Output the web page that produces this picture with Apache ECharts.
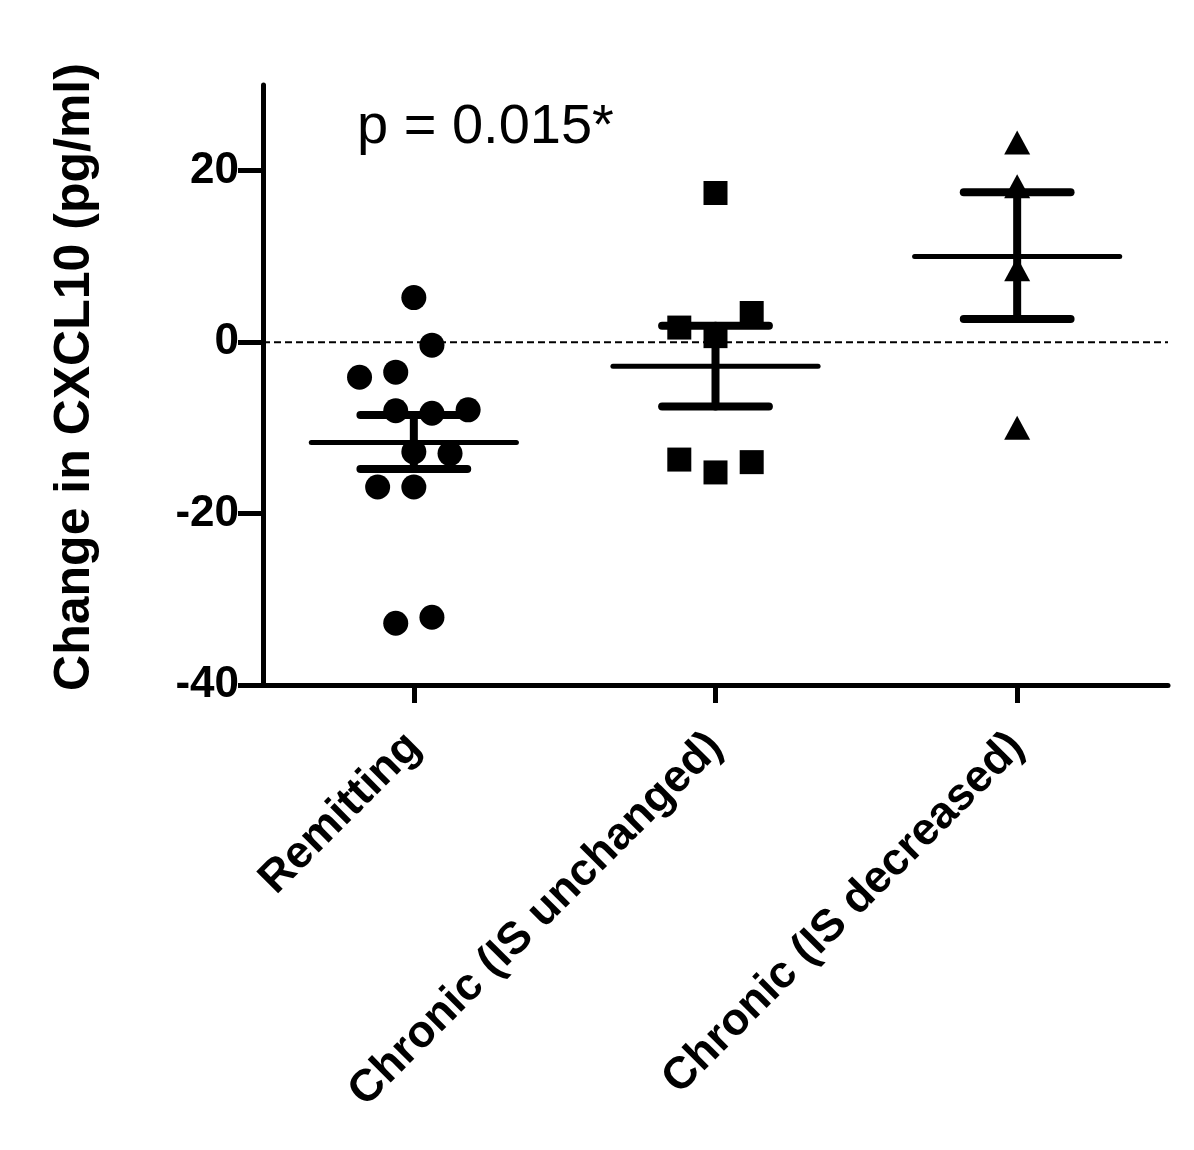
<!DOCTYPE html>
<html>
<head>
<meta charset="utf-8">
<script src="https://cdn.jsdelivr.net/npm/echarts@6/dist/echarts.min.js"></script>
<style>
  html, body { margin: 0; padding: 0; background: #fff; }
  #chart { width: 1194px; height: 1150px; }
</style>
</head>
<body>
<div id="chart"></div>
<script>
// ---- data ----
const categories = ['Remitting', 'Chronic (IS unchanged)', 'Chronic (IS decreased)'];
const yTicks = [-40, -20, 0, 20];
const yName = 'Change in CXCL10 (pg/ml)';
const pText = 'p = 0.015*';

// individual values (change, pg/ml) and their horizontal jitter (in category units)
const remittingValues = [5.2, -0.35, -4.1, -3.5, -8.0, -8.3, -7.9, -12.8, -13.0, -16.9, -16.9, -32.8, -32.1];
const remittingJitter = [0, 0.06, -0.18, -0.06, -0.06, 0.06, 0.18, 0, 0.12, -0.12, 0, -0.06, 0.06];
const unchangedValues = [17.4, 1.7, 3.4, 0.7, -13.7, -15.2, -14.0];
const unchangedJitter = [0, -0.12, 0.12, 0, -0.12, 0, 0.12];
const decreasedValues = [23.3, 18.2, 8.5, -10.0];
const decreasedJitter = [0, 0, 0, 0];

// group mean and SEM bounds
const groupMeans = [-11.7, -2.8, 10.0];
const groupSemLow = [-14.8, -7.5, 2.7];
const groupSemHigh = [-8.5, 1.9, 17.5];

// ---- build ----
function pts(idx, vals, jit) {
  return vals.map((v, i) => [idx + jit[i], v]);
}
const FONT = 'Liberation Sans, Arial, sans-serif';

const chart = echarts.init(document.getElementById('chart'), null, { renderer: 'canvas' });

const meanData = groupMeans.map((m, i) => [i, m, groupSemLow[i], groupSemHigh[i]]);
const markerStyle = { color: '#000', opacity: 1 };

const option = {
  backgroundColor: '#fff',
  animation: false,
  grid: { left: 263, right: 26, top: 85, bottom: 465, containLabel: false },
  xAxis: [
    {
      type: 'category',
      data: categories,
      boundaryGap: true,
      axisLine: { show: true, onZero: false, lineStyle: { color: '#000', width: 5 } },
      axisTick: { show: true, inside: false, interval: 0, alignWithLabel: true, length: 18, lineStyle: { color: '#000', width: 5 } },
      axisLabel: {
        rotate: 45, interval: 0, margin: 55,
        color: '#000', fontFamily: FONT, fontWeight: 'bold', fontSize: 45
      },
      splitLine: { show: false }
    },
    {
      type: 'value', min: -0.5, max: 2.5, show: false,
      axisLine: { onZero: false }
    }
  ],
  yAxis: {
    type: 'value',
    min: -40, max: 30,
    name: yName,
    nameLocation: 'middle',
    nameRotate: 90,
    nameGap: 163,
    nameTextStyle: { color: '#000', fontFamily: FONT, fontWeight: 'bold', fontSize: 50, padding: [0, 0, 0, 16] },
    axisLine: { show: true, onZero: false, lineStyle: { color: '#000', width: 5 } },
    axisTick: { show: true, length: 25, customValues: yTicks, lineStyle: { color: '#000', width: 5 } },
    axisLabel: {
      customValues: yTicks, margin: 24,
      color: '#000', fontFamily: FONT, fontWeight: 'bold', fontSize: 44
    },
    splitLine: { show: false }
  },
  graphic: [
    {
      type: 'text', left: 357, top: 100, z: 10,
      style: { text: pText, fill: '#000', font: 'normal 56px ' + FONT }
    }
  ],
  series: [
    {
      type: 'line', xAxisIndex: 1, data: [[-0.5, 0], [2.5, 0]],
      symbol: 'none', silent: true, z: 1,
      lineStyle: { color: '#000', width: 2, type: [7, 4] }
    },
    {
      type: 'scatter', xAxisIndex: 1, data: pts(0, remittingValues, remittingJitter),
      symbol: 'circle', symbolSize: 25, itemStyle: markerStyle, z: 3
    },
    {
      type: 'scatter', xAxisIndex: 1, data: pts(1, unchangedValues, unchangedJitter),
      symbol: 'rect', symbolSize: 24, itemStyle: markerStyle, z: 3
    },
    {
      type: 'scatter', xAxisIndex: 1, data: pts(2, decreasedValues, decreasedJitter),
      symbol: 'triangle', symbolSize: [26, 24], itemStyle: markerStyle, z: 3
    },
    {
      type: 'custom', xAxisIndex: 1, data: meanData, z: 4,
      renderItem: function (params, api) {
        const x = api.value(0);
        const m = api.coord([x, api.value(1)]);
        const lo = api.coord([x, api.value(2)]);
        const hi = api.coord([x, api.value(3)]);
        const meanL = api.coord([x - 0.34, api.value(1)]);
        const meanR = api.coord([x + 0.34, api.value(1)]);
        const capL = api.coord([x - 0.177, 0])[0];
        const capR = api.coord([x + 0.177, 0])[0];
        const stroke = { stroke: '#000', lineCap: 'round' };
        return {
          type: 'group',
          children: [
            { type: 'line', shape: { x1: meanL[0], y1: m[1], x2: meanR[0], y2: m[1] }, style: Object.assign({ lineWidth: 5 }, stroke) },
            { type: 'line', shape: { x1: m[0], y1: lo[1], x2: m[0], y2: hi[1] }, style: Object.assign({ lineWidth: 8 }, stroke) },
            { type: 'line', shape: { x1: capL, y1: lo[1], x2: capR, y2: lo[1] }, style: Object.assign({ lineWidth: 8 }, stroke) },
            { type: 'line', shape: { x1: capL, y1: hi[1], x2: capR, y2: hi[1] }, style: Object.assign({ lineWidth: 8 }, stroke) }
          ]
        };
      }
    }
  ]
};
chart.setOption(option);
</script>
</body>
</html>
